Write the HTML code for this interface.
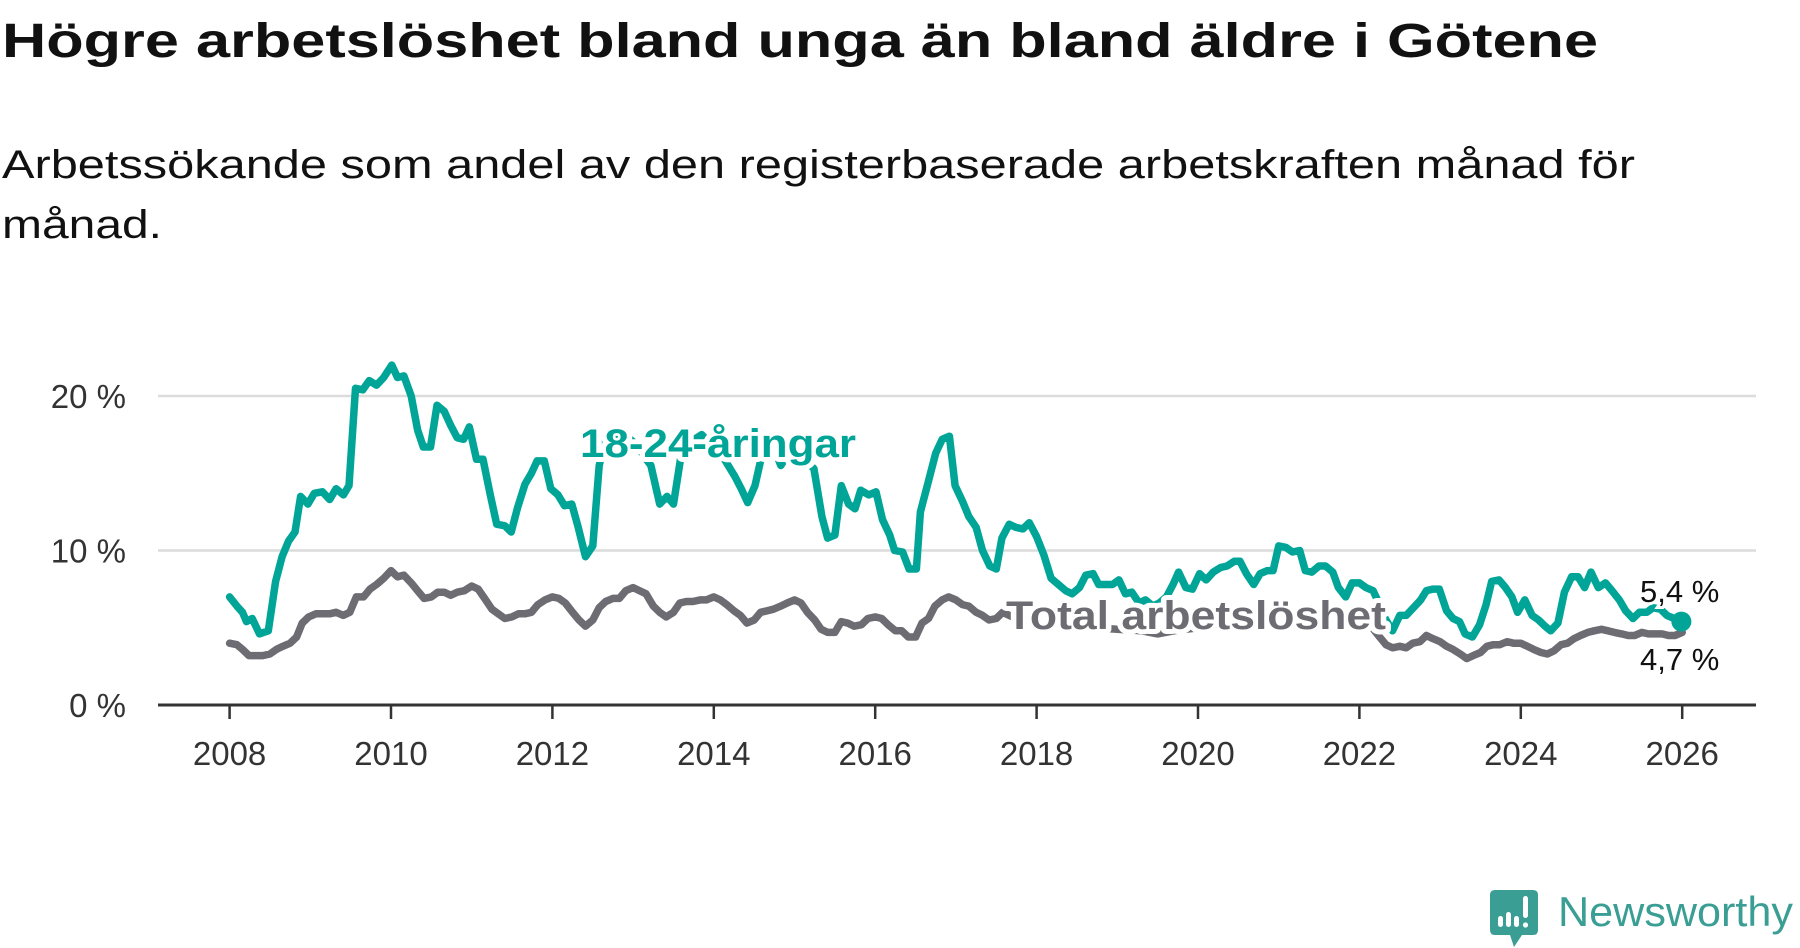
<!DOCTYPE html>
<html><head><meta charset="utf-8">
<style>
html,body{margin:0;padding:0;background:#fff;}
svg{display:block;font-family:"Liberation Sans",sans-serif;}
</style></head>
<body>
<svg id="chart" width="1800" height="948" viewBox="0 0 1800 948">
  <text x="2" y="57" font-size="48" font-weight="bold" fill="#111" textLength="1596" lengthAdjust="spacingAndGlyphs">Högre arbetslöshet bland unga än bland äldre i Götene</text>
  <text x="2" y="178" font-size="40" fill="#111" textLength="1633" lengthAdjust="spacingAndGlyphs">Arbetssökande som andel av den registerbaserade arbetskraften månad för</text>
  <text x="2" y="238" font-size="40" fill="#111" textLength="160" lengthAdjust="spacingAndGlyphs">månad.</text>
  <g id="grid"></g>
  <g id="xaxis"></g>
  <g id="lines"></g>
  <g id="labels"></g>
  <g>
    <path d="M1495 890 H1533 Q1538 890 1538 895 V930 Q1538 935 1533 935 H1522 L1514 947 L1510 935 H1495 Q1490 935 1490 930 V895 Q1490 890 1495 890 Z" fill="#3a9e94"/>
    <rect x="1498" y="916" width="5" height="11" rx="2.5" fill="#fff"/>
    <rect x="1506" y="912" width="5" height="15" rx="2.5" fill="#fff"/>
    <rect x="1514" y="916" width="5" height="11" rx="2.5" fill="#fff"/>
    <rect x="1523" y="896" width="5" height="22" rx="2.5" fill="#fff"/>
    <circle cx="1525.5" cy="925" r="2.6" fill="#fff"/>
    <text x="1558" y="926" font-size="42" fill="#3a9e94" textLength="235" lengthAdjust="spacingAndGlyphs">Newsworthy</text>
  </g>
</svg>
<script>
const yTicks = [0, 10, 20];
const yTickLabels = ["0 %", "10 %", "20 %"];
const xTicks = [2008, 2010, 2012, 2014, 2016, 2018, 2020, 2022, 2024, 2026];
const youthT = [2008.00,2008.09,2008.16,2008.21,2008.28,2008.37,2008.48,2008.57,2008.65,2008.73,2008.81,2008.88,2008.97,2009.05,2009.15,2009.24,2009.32,2009.41,2009.48,2009.56,2009.65,2009.73,2009.82,2009.91,2010.01,2010.08,2010.16,2010.25,2010.33,2010.40,2010.49,2010.57,2010.66,2010.74,2010.82,2010.90,2010.97,2011.06,2011.14,2011.23,2011.31,2011.41,2011.49,2011.57,2011.66,2011.74,2011.81,2011.90,2011.98,2012.07,2012.15,2012.24,2012.32,2012.41,2012.50,2012.58,2012.67,2012.75,2012.90,2013.05,2013.15,2013.22,2013.33,2013.42,2013.50,2013.59,2013.70,2013.85,2014.12,2014.26,2014.34,2014.42,2014.51,2014.61,2014.72,2014.83,2014.95,2015.10,2015.24,2015.34,2015.41,2015.50,2015.58,2015.67,2015.75,2015.82,2015.92,2016.01,2016.09,2016.18,2016.24,2016.34,2016.42,2016.51,2016.56,2016.66,2016.75,2016.83,2016.92,2016.99,2017.08,2017.16,2017.25,2017.33,2017.42,2017.50,2017.57,2017.66,2017.74,2017.83,2017.91,2018.00,2018.09,2018.18,2018.27,2018.36,2018.44,2018.53,2018.61,2018.70,2018.77,2018.85,2018.94,2019.02,2019.10,2019.18,2019.27,2019.35,2019.44,2019.52,2019.61,2019.69,2019.76,2019.85,2019.93,2020.02,2020.10,2020.19,2020.28,2020.36,2020.45,2020.52,2020.60,2020.69,2020.77,2020.86,2020.93,2021.00,2021.09,2021.17,2021.26,2021.33,2021.41,2021.50,2021.58,2021.67,2021.74,2021.83,2021.91,2022.00,2022.08,2022.17,2022.25,2022.32,2022.41,2022.50,2022.58,2022.67,2022.76,2022.83,2022.91,2022.99,2023.08,2023.16,2023.24,2023.31,2023.40,2023.49,2023.57,2023.64,2023.73,2023.81,2023.89,2023.96,2024.05,2024.14,2024.22,2024.30,2024.37,2024.46,2024.54,2024.63,2024.71,2024.79,2024.87,2024.96,2025.05,2025.13,2025.22,2025.30,2025.39,2025.47,2025.56,2025.64,2025.73,2025.81,2025.90,2025.99];
const youthV = [7.0,6.4,6.0,5.4,5.6,4.6,4.8,8.0,9.6,10.6,11.2,13.5,13.0,13.7,13.8,13.3,14.0,13.6,14.2,20.5,20.4,21.0,20.7,21.2,22.0,21.2,21.3,20.0,17.8,16.7,16.7,19.4,19.0,18.1,17.3,17.2,18.0,15.9,15.9,13.6,11.7,11.6,11.2,12.8,14.3,15.0,15.8,15.8,14.0,13.6,12.9,13.0,11.5,9.6,10.3,15.5,17.5,17.0,17.5,16.8,16.0,15.5,13.0,13.5,13.0,16.0,17.0,17.5,16.0,14.8,14.0,13.1,14.2,16.5,17.0,15.5,16.5,16.0,15.3,12.2,10.8,11.0,14.2,13.0,12.7,13.9,13.6,13.8,12.0,11.0,10.0,9.9,8.8,8.8,12.5,14.5,16.3,17.2,17.4,14.2,13.2,12.2,11.5,10.0,9.0,8.8,10.8,11.7,11.5,11.4,11.8,10.9,9.7,8.2,7.8,7.4,7.2,7.6,8.4,8.5,7.8,7.8,7.8,8.1,7.2,7.3,6.6,6.8,6.4,6.6,7.0,7.8,8.6,7.6,7.5,8.5,8.1,8.6,8.9,9.0,9.3,9.3,8.5,7.8,8.5,8.7,8.7,10.3,10.2,9.9,10.0,8.7,8.6,9.0,9.0,8.6,7.6,7.0,7.9,7.9,7.6,7.4,6.5,5.6,4.8,5.8,5.8,6.3,6.8,7.4,7.5,7.5,6.1,5.6,5.4,4.6,4.4,5.2,6.5,8.0,8.1,7.6,7.0,6.0,6.8,5.8,5.5,5.1,4.8,5.3,7.3,8.3,8.3,7.6,8.6,7.6,7.9,7.4,6.8,6.1,5.6,6.0,6.0,6.3,6.2,5.8,5.6,5.4];
const totalT = [2008.00,2008.09,2008.16,2008.24,2008.33,2008.41,2008.50,2008.58,2008.66,2008.75,2008.83,2008.90,2008.98,2009.07,2009.15,2009.24,2009.32,2009.41,2009.49,2009.57,2009.66,2009.74,2009.82,2009.91,2010.00,2010.08,2010.16,2010.25,2010.33,2010.41,2010.50,2010.58,2010.66,2010.74,2010.82,2010.91,2011.00,2011.08,2011.16,2011.25,2011.33,2011.41,2011.50,2011.58,2011.66,2011.74,2011.82,2011.91,2012.00,2012.08,2012.16,2012.25,2012.33,2012.41,2012.50,2012.58,2012.66,2012.75,2012.83,2012.91,2013.00,2013.08,2013.16,2013.25,2013.33,2013.41,2013.50,2013.58,2013.66,2013.74,2013.83,2013.91,2014.00,2014.08,2014.16,2014.25,2014.33,2014.41,2014.50,2014.58,2014.66,2014.74,2014.83,2014.91,2015.00,2015.08,2015.16,2015.25,2015.33,2015.41,2015.50,2015.58,2015.66,2015.74,2015.83,2015.91,2016.00,2016.08,2016.16,2016.25,2016.33,2016.41,2016.50,2016.58,2016.66,2016.74,2016.83,2016.91,2017.00,2017.08,2017.16,2017.25,2017.33,2017.41,2017.50,2017.58,2017.70,2017.90,2018.10,2018.40,2018.70,2019.00,2019.30,2019.50,2019.70,2020.00,2020.30,2020.60,2020.90,2021.20,2021.50,2021.80,2022.00,2022.16,2022.25,2022.33,2022.41,2022.50,2022.58,2022.66,2022.75,2022.83,2022.91,2023.00,2023.08,2023.16,2023.25,2023.33,2023.41,2023.50,2023.58,2023.66,2023.74,2023.83,2023.91,2024.00,2024.08,2024.16,2024.25,2024.33,2024.41,2024.50,2024.58,2024.66,2024.74,2024.83,2024.91,2025.00,2025.08,2025.16,2025.25,2025.33,2025.41,2025.50,2025.58,2025.66,2025.75,2025.83,2025.91,2026.00];
const totalV = [4.0,3.9,3.6,3.2,3.2,3.2,3.3,3.6,3.8,4.0,4.4,5.3,5.7,5.9,5.9,5.9,6.0,5.8,6.0,7.0,7.0,7.5,7.8,8.2,8.7,8.3,8.4,7.9,7.4,6.9,7.0,7.3,7.3,7.1,7.3,7.4,7.7,7.5,6.9,6.2,5.9,5.6,5.7,5.9,5.9,6.0,6.5,6.8,7.0,6.9,6.6,6.0,5.5,5.1,5.5,6.3,6.7,6.9,6.9,7.4,7.6,7.4,7.2,6.4,6.0,5.7,6.0,6.6,6.7,6.7,6.8,6.8,7.0,6.8,6.5,6.1,5.8,5.3,5.5,6.0,6.1,6.2,6.4,6.6,6.8,6.6,6.0,5.5,4.9,4.7,4.7,5.4,5.3,5.1,5.2,5.6,5.7,5.6,5.2,4.8,4.8,4.4,4.4,5.3,5.6,6.4,6.8,7.0,6.8,6.5,6.4,6.0,5.8,5.5,5.6,6.0,5.7,5.6,5.4,5.2,5.0,4.9,4.8,4.6,4.8,5.0,5.5,5.5,5.3,5.5,5.2,5.0,5.2,5.0,4.4,3.9,3.7,3.8,3.7,4.0,4.1,4.5,4.3,4.1,3.8,3.6,3.3,3.0,3.2,3.4,3.8,3.9,3.9,4.1,4.0,4.0,3.8,3.6,3.4,3.3,3.5,3.9,4.0,4.3,4.5,4.7,4.8,4.9,4.8,4.7,4.6,4.5,4.5,4.7,4.6,4.6,4.6,4.5,4.5,4.7];
const endLabels = ["5,4 %", "4,7 %"];

const NS = "http://www.w3.org/2000/svg";
const x0 = 229.6, xPerYear = 80.7, y0 = 705, yPerPct = 15.45;
function xs(t){ return x0 + (t - 2008) * xPerYear; }
function ys(v){ return y0 - v * yPerPct; }
function mk(tag, attrs, parent){ const e = document.createElementNS(NS, tag); for (const k in attrs) e.setAttribute(k, attrs[k]); parent.appendChild(e); return e; }

const grid = document.getElementById('grid');
yTicks.forEach((v, i) => {
  if (v !== 0) {
    const l = mk('line', {x1:158, x2:1756, y1:ys(v), y2:ys(v), stroke:'#dcdcdc', 'stroke-width':2.5}, grid);
    
    
  }
  const t = mk('text', {x:126, y:ys(v) + 12, 'font-size':33, fill:'#333', 'text-anchor':'end'}, grid);
  t.textContent = yTickLabels[i];
  
  
});
const xa = document.getElementById('xaxis');
const axis = mk('line', {x1:158, x2:1756, y1:y0, y2:y0, stroke:'#333', 'stroke-width':3}, xa);


xTicks.forEach(yr => {
  const tk = mk('line', {x1:xs(yr), x2:xs(yr), y1:y0, y2:y0 + 14, stroke:'#333', 'stroke-width':2.5}, xa);
  
  
  const t = mk('text', {x:xs(yr), y:765, 'font-size':33, fill:'#333', 'text-anchor':'middle'}, xa);
  t.textContent = yr;
  
  
});
const lines = document.getElementById('lines');
function pts(T, V){ return T.map((t, i) => xs(t).toFixed(1) + ',' + ys(V[i]).toFixed(1)).join(' '); }
const tl = mk('polyline', {points:pts(totalT, totalV), fill:'none', stroke:'#6d6c73', 'stroke-width':7.5, 'stroke-linejoin':'round', 'stroke-linecap':'round'}, lines);


const yl = mk('polyline', {points:pts(youthT, youthV), fill:'none', stroke:'#00a597', 'stroke-width':7.5, 'stroke-linejoin':'round', 'stroke-linecap':'round'}, lines);


const dot = mk('circle', {cx:xs(youthT[youthT.length-1]), cy:ys(youthV[youthV.length-1]), r:10, fill:'#00a597'}, lines);



const lab = document.getElementById('labels');
const l1 = mk('text', {x:580, y:457, 'font-size':40, 'font-weight':'bold', fill:'#00a597', stroke:'#fff', 'stroke-width':10, 'paint-order':'stroke', 'stroke-linejoin':'round', textLength:276, lengthAdjust:'spacingAndGlyphs'}, lab);
l1.textContent = '18-24-åringar';


const l2 = mk('text', {x:1006, y:629, 'font-size':40, 'font-weight':'bold', fill:'#6d6c73', stroke:'#fff', 'stroke-width':10, 'paint-order':'stroke', 'stroke-linejoin':'round', textLength:380, lengthAdjust:'spacingAndGlyphs'}, lab);
l2.textContent = 'Total arbetslöshet';


const e1 = mk('text', {x:1640, y:602, 'font-size':31, fill:'#111', stroke:'#fff', 'stroke-width':6, 'paint-order':'stroke'}, lab);
e1.textContent = endLabels[0];


const e2 = mk('text', {x:1640, y:670, 'font-size':31, fill:'#111', stroke:'#fff', 'stroke-width':6, 'paint-order':'stroke'}, lab);
e2.textContent = endLabels[1];


</script>
</body></html>
